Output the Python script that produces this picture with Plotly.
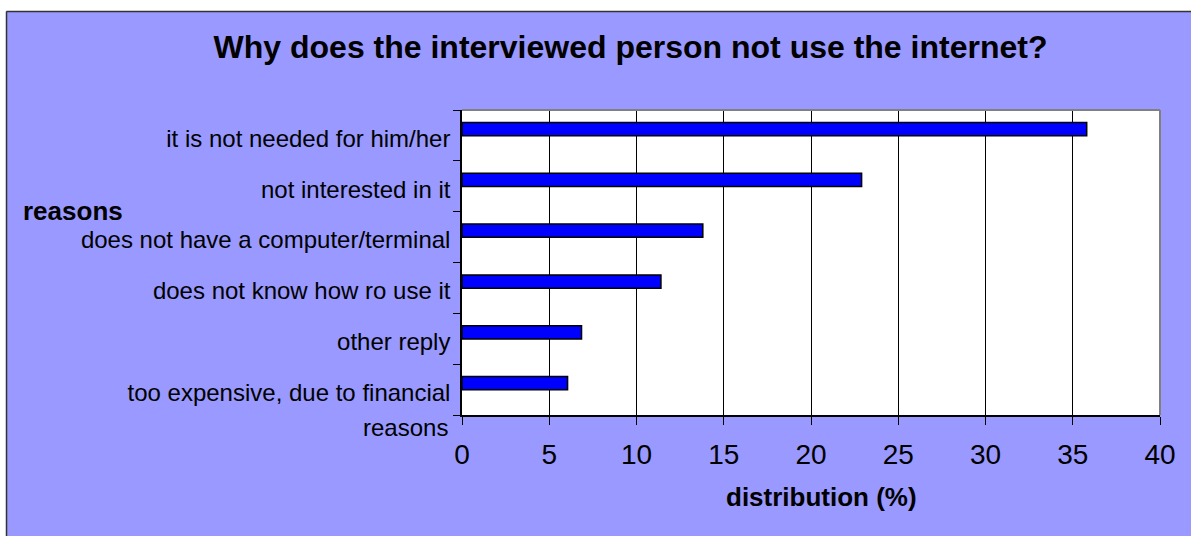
import plotly.graph_objects as go

# ---- data ----
reasons = [
    "it is not needed for him/her",
    "not interested in it",
    "does not have a computer/terminal",
    "does not know how ro use it",
    "other reply",
    "too expensive, due to financial reasons",
]
tick_labels = [
    "it is not needed for him/her",
    "not interested in it",
    "does not have a computer/terminal",
    "does not know how ro use it",
    "other reply",
    "too expensive, due to financial",
]
last_label_second_line = "reasons"
distribution = [35.8, 22.9, 13.8, 11.4, 6.85, 6.05]
x_ticks = [0, 5, 10, 15, 20, 25, 30, 35, 40]

title_text = "Why does the interviewed person not use the internet?"
x_title = "distribution (%)"
y_title = "reasons"

# ---- layout geometry (pixels) ----
W, H = 1191, 536
ML, MR, MT, MB = 462, 31, 110, 121
PW, PH = W - ML - MR, H - MT - MB
FONT = "Liberation Sans, Arial, sans-serif"
BG = "#9999FF"


def px_x(px):
    return (px - ML) / PW


def px_y(py):
    return (H - MB - py) / PH


fig = go.Figure()
fig.add_trace(go.Bar(
    x=distribution,
    y=reasons,
    orientation="h",
    width=0.26,
    offset=-0.255,
    marker=dict(color="#0000FF", line=dict(color="black", width=1.5)),
    hoverinfo="x+y",
))

shapes = [
    # white page strips outside the chart frame
    dict(type="rect", xref="paper", yref="paper", x0=px_x(-5), x1=px_x(W + 5),
         y0=px_y(11), y1=px_y(-5), fillcolor="white", line=dict(width=0), layer="above"),
    dict(type="rect", xref="paper", yref="paper", x0=px_x(-5), x1=px_x(6),
         y0=px_y(H + 5), y1=px_y(-5), fillcolor="white", line=dict(width=0), layer="above"),
    # chart frame
    dict(type="line", xref="paper", yref="paper", x0=px_x(6.5), x1=px_x(W + 5),
         y0=px_y(11.5), y1=px_y(11.5), line=dict(color="#333333", width=1.5), layer="above"),
    dict(type="line", xref="paper", yref="paper", x0=px_x(6.5), x1=px_x(6.5),
         y0=px_y(11.5), y1=px_y(H + 5), line=dict(color="#333333", width=1.5), layer="above"),
    # plot area top/right gray border
    dict(type="line", xref="paper", yref="paper", x0=0, x1=1, y0=1, y1=1,
         line=dict(color="#808080", width=2), layer="above"),
    dict(type="line", xref="paper", yref="paper", x0=1, x1=1, y0=0, y1=1,
         line=dict(color="#808080", width=2), layer="above"),
]

annotations = [
    dict(text="<b>%s</b>" % y_title, xref="paper", yref="paper", x=px_x(21), y=px_y(211),
         xanchor="left", yanchor="middle", showarrow=False,
         font=dict(family=FONT, size=26, color="black")),
    dict(text="<b>%s</b>" % x_title, xref="paper", yref="paper", x=px_x(821.5), y=px_y(497),
         xanchor="center", yanchor="middle", showarrow=False,
         font=dict(family=FONT, size=26, color="black")),
    dict(text=last_label_second_line, xref="paper", yref="paper", x=px_x(450), y=px_y(427),
         xanchor="right", yanchor="middle", showarrow=False,
         font=dict(family=FONT, size=24, color="black")),
]

fig.update_layout(
    width=W, height=H,
    margin=dict(l=ML, r=MR, t=MT, b=MB, pad=0),
    paper_bgcolor=BG,
    plot_bgcolor="white",
    showlegend=False,
    font=dict(family=FONT, color="black"),
    title=dict(text="<b>%s</b>" % title_text, x=630.5 / W, y=1 - 47 / H,
               xref="container", yref="container", xanchor="center", yanchor="middle",
               font=dict(family=FONT, size=32, color="black")),
    xaxis=dict(range=[0, 40], tickvals=x_ticks, showgrid=True, gridcolor="black", gridwidth=1,
               zeroline=False, showline=True, linecolor="black", linewidth=1.5,
               ticks="outside", ticklen=8, tickcolor="black", tickwidth=1,
               ticklabelstandoff=6,
               tickfont=dict(family=FONT, size=28, color="black"), fixedrange=True),
    yaxis=dict(type="category", categoryorder="array", categoryarray=reasons,
               range=[len(reasons) - 0.5, -0.5],
               tickvals=reasons, ticktext=tick_labels, tickson="boundaries",
               showgrid=False, zeroline=False, showline=True, linecolor="black", linewidth=1.5,
               ticks="outside", ticklen=7, tickcolor="black", tickwidth=1,
               ticklabelstandoff=5, ticklabelshift=-3,
               tickfont=dict(family=FONT, size=24, color="black"), fixedrange=True),
    shapes=shapes,
    annotations=annotations,
)

fig.write_html("out.html", config={"displayModeBar": False},
               post_script="document.body.style.margin='0px';")
